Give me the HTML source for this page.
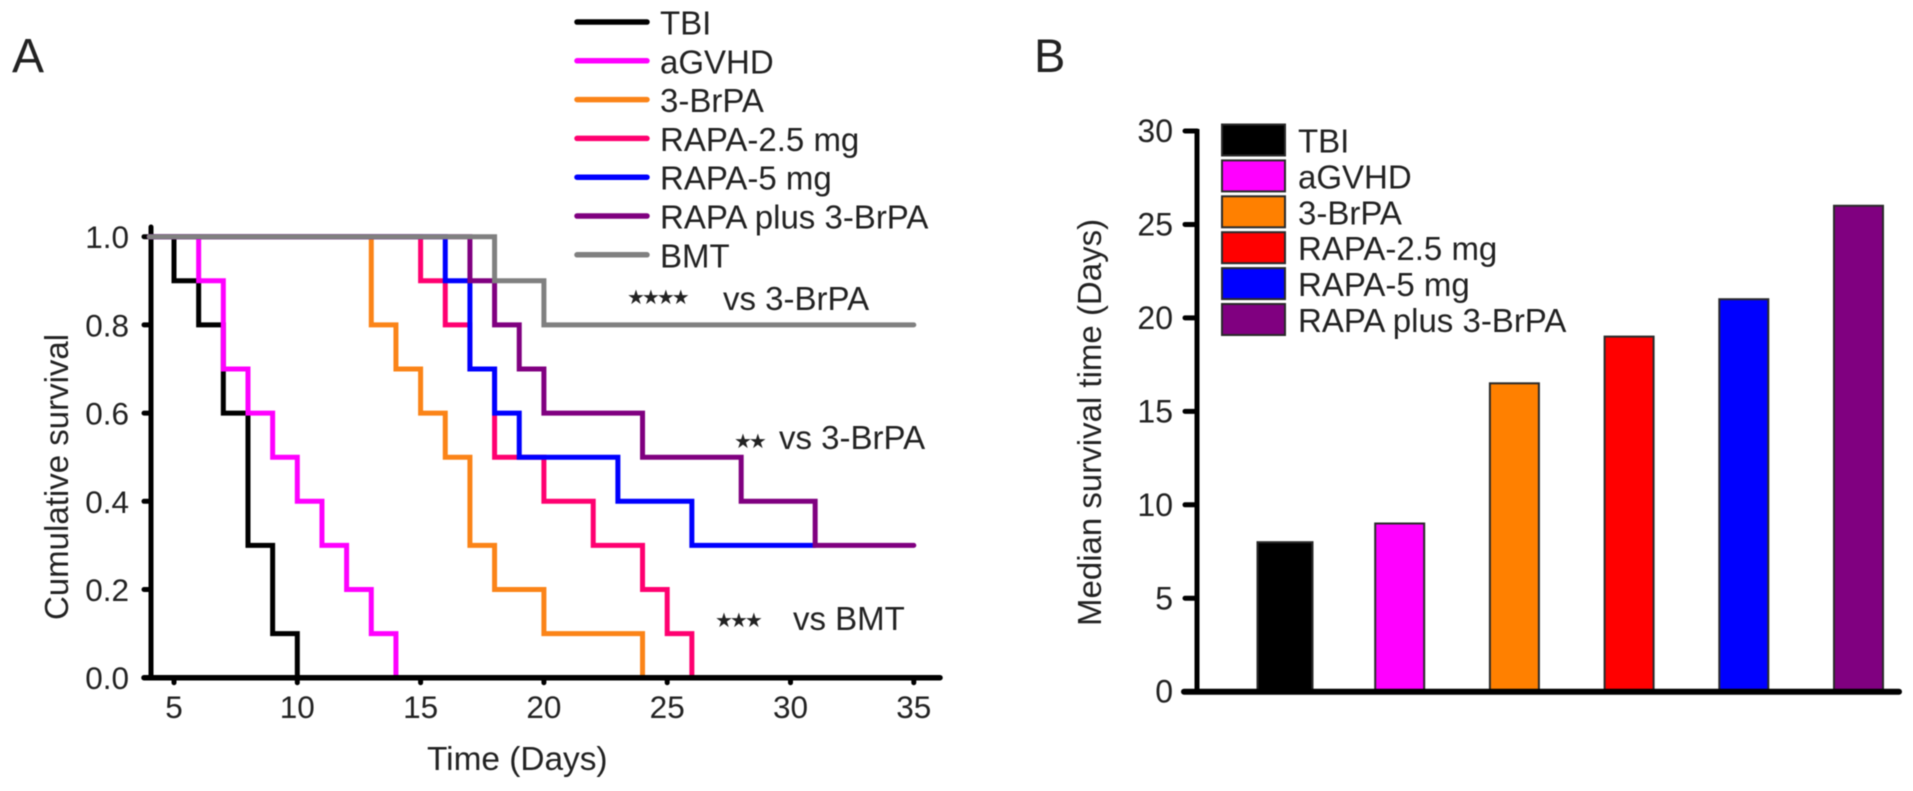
<!DOCTYPE html>
<html lang="en">
<head>
<meta charset="utf-8">
<title>Survival analysis figure</title>
<style>
  html, body { margin: 0; padding: 0; background: #fff; }
  body { width: 1913px; height: 791px; overflow: hidden; }
  svg { display: block; filter: blur(0.45px); }
  text { font-family: "Liberation Sans", Arial, sans-serif; fill: #222222; }
  .stars { font-family: "DejaVu Sans", sans-serif; letter-spacing: -3px; }
</style>
</head>
<body>
<svg id="figure" xmlns="http://www.w3.org/2000/svg" width="1913" height="791" viewBox="0 0 1913 791">
  <rect x="0" y="0" width="1913" height="791" fill="#ffffff"/>
  <text x="12" y="72" font-size="48">A</text>
  <text x="1034" y="72" font-size="47">B</text>

  <g id="panelA"></g>
  <text transform="translate(68,620) rotate(-90)" font-size="33">Cumulative survival</text>
  <text x="427" y="770" font-size="33.4">Time (Days)</text>

  <text class="stars" x="627" y="304" font-size="20">★★★★</text>
  <text x="723" y="310" font-size="33">vs 3-BrPA</text>
  <text class="stars" x="734" y="448" font-size="20">★★</text>
  <text x="779" y="449" font-size="33">vs 3-BrPA</text>
  <text class="stars" x="715" y="627" font-size="20">★★★</text>
  <text x="793" y="630" font-size="33">vs BMT</text>

  <g id="panelB"></g>
  <text transform="translate(1101,626) rotate(-90)" font-size="33">Median survival time (Days)</text>
</svg>

<script>
// ---- Panel A data: day of each drop and the survival level after that drop ----
const survivalSeriesNames = ['TBI', 'aGVHD', '3-BrPA', 'RAPA-2.5 mg', 'RAPA-5 mg', 'RAPA plus 3-BrPA', 'BMT'];
const tbiDays = [5, 6, 7, 8, 9, 10];
const tbiSurvival = [0.9, 0.8, 0.6, 0.3, 0.1, 0];
const agvhdDays = [6, 7, 8, 9, 10, 11, 12, 13, 14];
const agvhdSurvival = [0.9, 0.7, 0.6, 0.5, 0.4, 0.3, 0.2, 0.1, 0];
const brpaDays = [13, 14, 15, 16, 17, 18, 20, 24];
const brpaSurvival = [0.8, 0.7, 0.6, 0.5, 0.3, 0.2, 0.1, 0];
const rapa25Days = [15, 16, 17, 18, 20, 22, 24, 25, 26];
const rapa25Survival = [0.9, 0.8, 0.7, 0.5, 0.4, 0.3, 0.2, 0.1, 0];
const rapa5Days = [16, 17, 18, 19, 23, 26, 31];
const rapa5Survival = [0.9, 0.7, 0.6, 0.5, 0.4, 0.3, 0.3];
const comboDays = [17, 18, 19, 20, 24, 28, 31, 35];
const comboSurvival = [0.9, 0.8, 0.7, 0.6, 0.5, 0.4, 0.3, 0.3];
const bmtDays = [18, 20, 35];
const bmtSurvival = [0.9, 0.8, 0.8];
const survivalTickLabels = ['0.0', '0.2', '0.4', '0.6', '0.8', '1.0'];
const dayTickLabels = ['5', '10', '15', '20', '25', '30', '35'];

// ---- Panel B data ----
const medianCategories = ['TBI', 'aGVHD', '3-BrPA', 'RAPA-2.5 mg', 'RAPA-5 mg', 'RAPA plus 3-BrPA'];
const medianValues = [8, 9, 16.5, 19, 21, 26];
const medianTickLabels = ['0', '5', '10', '15', '20', '25', '30'];

// ---- Palettes ----
const lineColors = ['#000000', '#ff00ff', '#fb8418', '#ff0070', '#0000ff', '#800080', '#808080'];
const barColors = ['#000000', '#ff00ff', '#ff8000', '#ff0000', '#0000ff', '#800080'];

const NS = 'http://www.w3.org/2000/svg';
function el(parent, tag, attrs) {
  const node = document.createElementNS(NS, tag);
  for (const key in attrs) node.setAttribute(key, attrs[key]);
  parent.appendChild(node);
  return node;
}

// Axis functions, panel A
const dayX = d => 174 + 24.66 * (d - 5);
const survivalY = s => 677.7 - 441 * s;
// Axis functions, panel B
const medianY = v => 691.7 - 18.69 * v;
const bandX = i => 1285 + 114.7 * i;

const panelA = document.getElementById('panelA');
const panelB = document.getElementById('panelB');

// Panel A: y axis
const yAxisA = el(panelA, 'line', { x1: 151, x2: 151, y1: 227, y2: survivalY(0), stroke: '#000', 'stroke-width': 5, 'stroke-linecap': 'round' });



survivalTickLabels.forEach(label => {
  const y = survivalY(parseFloat(label));
  const tick = el(panelA, 'line', { x1: 144, x2: 151, y1: y, y2: y, stroke: '#000', 'stroke-width': 5, 'stroke-linecap': 'round' });
  
  
  const text = el(panelA, 'text', { x: 129, y: y + 11.5, 'font-size': 31.5, 'text-anchor': 'end' });
  text.textContent = label;
  
  
});

// Panel A: survival step lines
function stepPath(days, levels) {
  let d = 'M' + dayX(4).toFixed(2) + ' ' + survivalY(1).toFixed(2);
  let current = 1;
  days.forEach((day, i) => {
    d += ' L' + dayX(day).toFixed(2) + ' ' + survivalY(current).toFixed(2);
    current = levels[i];
    d += ' L' + dayX(day).toFixed(2) + ' ' + survivalY(current).toFixed(2);
  });
  return d;
}
const survivalDays = [tbiDays, agvhdDays, brpaDays, rapa25Days, rapa5Days, comboDays, bmtDays];
const survivalLevels = [tbiSurvival, agvhdSurvival, brpaSurvival, rapa25Survival, rapa5Survival, comboSurvival, bmtSurvival];
survivalSeriesNames.forEach((name, i) => {
  const path = el(panelA, 'path', {
    d: stepPath(survivalDays[i], survivalLevels[i]),
    fill: 'none', stroke: lineColors[i], 'stroke-width': 5,
    'stroke-linejoin': 'miter', 'stroke-linecap': 'round'
  });
  
  
});

// Panel A: x axis (over the line ends)
const xAxisA = el(panelA, 'line', { x1: 144, x2: 940, y1: survivalY(0), y2: survivalY(0), stroke: '#000', 'stroke-width': 5.5, 'stroke-linecap': 'round' });



dayTickLabels.forEach(label => {
  const x = dayX(parseFloat(label));
  const tick = el(panelA, 'line', { x1: x, x2: x, y1: survivalY(0), y2: survivalY(0) + 5, stroke: '#000', 'stroke-width': 5, 'stroke-linecap': 'round' });
  
  
  const text = el(panelA, 'text', { x: x, y: 718, 'font-size': 31.5, 'text-anchor': 'middle' });
  text.textContent = label;
  
  
});

// Panel A: legend
survivalSeriesNames.forEach((name, i) => {
  const y = 22 + 38.8 * i;
  const swatch = el(panelA, 'line', { x1: 577, x2: 647, y1: y, y2: y, stroke: lineColors[i], 'stroke-width': 5.5, 'stroke-linecap': 'round' });
  
  
  const text = el(panelA, 'text', { x: 660, y: y + 12.5, 'font-size': 33 });
  text.textContent = name;
  
  
});

// Panel B: bars
medianValues.forEach((value, i) => {
  const width = i === 0 ? 55 : 49;
  const bar = el(panelB, 'rect', {
    x: bandX(i) - width / 2, y: medianY(value), width: width, height: medianY(0) - medianY(value),
    fill: barColors[i], stroke: '#2a2a2a', 'stroke-width': 2
  });
  
  
});

// Panel B: axes
const yAxisB = el(panelB, 'line', { x1: 1197, x2: 1197, y1: 129, y2: medianY(0), stroke: '#000', 'stroke-width': 5 });



const xAxisB = el(panelB, 'line', { x1: 1184, x2: 1899, y1: medianY(0), y2: medianY(0), stroke: '#000', 'stroke-width': 6, 'stroke-linecap': 'round' });



medianTickLabels.forEach(label => {
  const y = medianY(parseFloat(label));
  const tick = el(panelB, 'line', { x1: 1185, x2: 1197, y1: y, y2: y, stroke: '#000', 'stroke-width': 5, 'stroke-linecap': 'round' });
  
  
  const text = el(panelB, 'text', { x: 1173, y: y + 11, 'font-size': 32, 'text-anchor': 'end' });
  text.textContent = label;
  
  
});

// Panel B: legend
medianCategories.forEach((name, i) => {
  const y = 124.5 + 35.9 * i;
  const swatch = el(panelB, 'rect', { x: 1222, y: y, width: 63, height: 31, fill: barColors[i], stroke: '#2a2a2a', 'stroke-width': 2 });
  
  
  const text = el(panelB, 'text', { x: 1298, y: y + 28, 'font-size': 33 });
  text.textContent = name;
  
  
});
</script>
</body>
</html>
